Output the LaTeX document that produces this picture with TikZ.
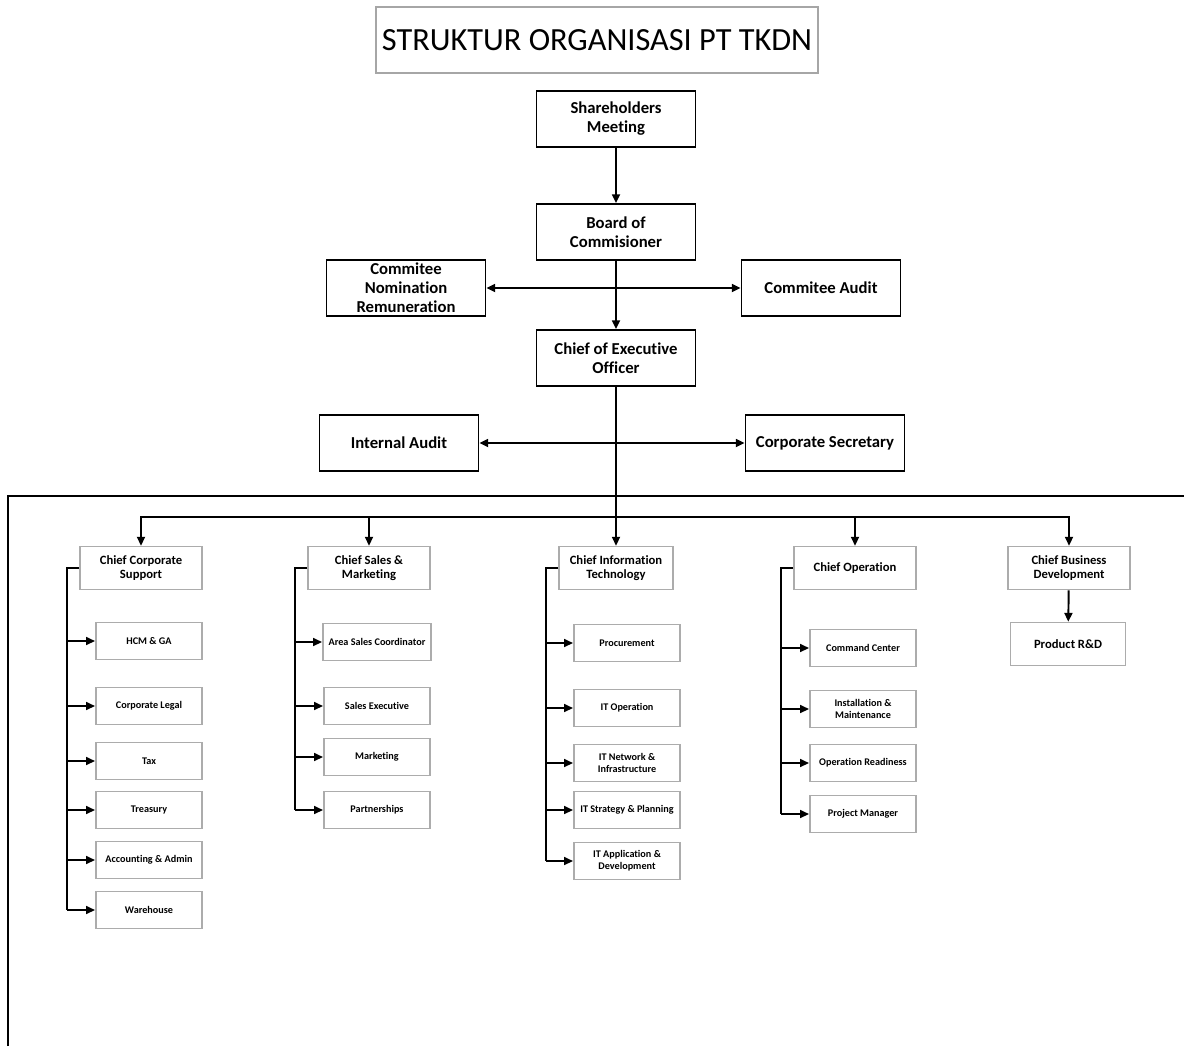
\documentclass[tikz,border=0pt]{standalone}
\usepackage{fontspec}
\setmainfont{Carlito}[Ligatures=NoCommon]
\usetikzlibrary{arrows.meta}
\begin{document}
\begin{tikzpicture}[x=0.02cm,y=-0.02cm,>={Triangle[length=5pt,width=4.5pt]},
	topbox/.style={draw,line width=1.1pt,minimum width=3.18cm,minimum height=1.12cm,align=center,font=\bfseries\fontsize{9.5}{10.8}\selectfont},
	chiefbox/.style={draw=gray!65,line width=0.9pt,minimum width=2.44cm,minimum height=0.86cm,align=center,font=\bfseries\fontsize{7.2}{8}\selectfont},
	subbox/.style={draw=gray!65,line width=0.9pt,minimum width=2.13cm,minimum height=0.74cm,align=center,font=\bfseries\fontsize{5.8}{6.6}\selectfont},
	link/.style={line width=1.1pt},
	sublink/.style={line width=0.9pt}]
	\useasboundingbox (0,0) rectangle (1184,1046);
	% judul
	\node[draw=gray!70,line width=1pt,minimum width=8.84cm,minimum height=1.32cm,font=\fontsize{18.4}{20}\selectfont] (title) at (597,40) {STRUKTUR ORGANISASI PT TKDN};
	% pimpinan
	\node[topbox] (rups) at (616,119) {Shareholders\\Meeting};
	\node[topbox] (boc) at (616,232) {Board of\\Commisioner};
	\node[topbox,inner ysep=0pt] (nomrem) at (406,288) {Commitee\\Nomination\\Remuneration};
	\node[topbox] (komaudit) at (821,288) {Commitee Audit};
	\node[topbox] (ceo) at (616,358) {Chief of Executive\\Officer};
	\node[topbox] (intaudit) at (399,443) {Internal Audit};
	\node[topbox] (corsec) at (825,443) {Corporate Secretary};
	\coordinate (komline) at (616,288);
	\coordinate (auditline) at (616,443);
	\path[link] (rups) edge[->] (boc);
	\path[link] (boc) edge[->] (ceo);
	\path[link] (komline) edge[->] (nomrem);
	\path[link] (komline) edge[->] (komaudit);
	\path[link] (auditline) edge[->] (intaudit);
	\path[link] (auditline) edge[->] (corsec);
	% bingkai
	\draw[line width=1.2pt] (8,1046) -- (8,496) -- (1184,496);
	% direktur
	\node[chiefbox] (ccs) at (141,568) {Chief Corporate\\Support};
	\node[chiefbox] (csm) at (369,568) {Chief Sales \&\\Marketing};
	\node[chiefbox,minimum width=2.28cm] (cit) at (616,568) {Chief Information\\Technology};
	\node[chiefbox] (cop) at (855,568) {Chief Operation};
	\node[chiefbox] (cbd) at (1069,568) {Chief Business\\Development};
	\node[chiefbox,minimum width=2.3cm] (rnd) at (1068,644) {Product R\&D};
	\coordinate (bus) at (616,517);
	\draw[link] (ceo) -- (bus);
	\path[link] (bus) edge[->] (cit);
	\foreach \c in {ccs,csm,cop,cbd}
		\draw[link,->] (bus) -| (\c.north);
	\path[link] (cbd) edge[->] (rnd);
	% corporate support
	\node[subbox] (hcm) at (149,641) {HCM \& GA};
	\node[subbox] (legal) at (149,706) {Corporate Legal};
	\node[subbox] (tax) at (149,761) {Tax};
	\node[subbox] (treas) at (149,810) {Treasury};
	\node[subbox] (acct) at (149,860) {Accounting \& Admin};
	\node[subbox] (ware) at (149,910) {Warehouse};
	\coordinate (ccsspine) at (67,568);
	\draw[link] (ccs.west) -- (ccsspine) -- (ccsspine |- ware.west);
	\foreach \s in {hcm,legal,tax,treas,acct,ware}
		\draw[sublink,->] (ccsspine |- \s.west) -- (\s.west);
	% sales & marketing
	\node[subbox] (asc) at (377,642) {Area Sales Coordinator};
	\node[subbox] (salesx) at (377,706) {Sales Executive};
	\node[subbox] (mkt) at (377,757) {Marketing};
	\node[subbox] (partner) at (377,810) {Partnerships};
	\coordinate (csmspine) at (295,568);
	\draw[link] (csm.west) -- (csmspine) -- (csmspine |- partner.west);
	\foreach \s in {asc,salesx,mkt,partner}
		\draw[sublink,->] (csmspine |- \s.west) -- (\s.west);
	% information technology
	\node[subbox] (proc) at (627,643) {Procurement};
	\node[subbox] (itops) at (627,708) {IT Operation};
	\node[subbox] (itnet) at (627,763) {IT Network \&\\Infrastructure};
	\node[subbox] (itstrat) at (627,810) {IT Strategy \& Planning};
	\node[subbox] (itapp) at (627,861) {IT Application \&\\Development};
	\coordinate (citspine) at (546,568);
	\draw[link] (cit.west) -- (citspine) -- (citspine |- itapp.west);
	\foreach \s in {proc,itops,itnet,itstrat,itapp}
		\draw[sublink,->] (citspine |- \s.west) -- (\s.west);
	% operation
	\node[subbox] (cmd) at (863,648) {Command Center};
	\node[subbox] (instal) at (863,709) {Installation \&\\Maintenance};
	\node[subbox] (ready) at (863,763) {Operation Readiness};
	\node[subbox] (pm) at (863,814) {Project Manager};
	\coordinate (copspine) at (781,568);
	\draw[link] (cop.west) -- (copspine) -- (copspine |- pm.west);
	\foreach \s in {cmd,instal,ready,pm}
		\draw[sublink,->] (copspine |- \s.west) -- (\s.west);
\end{tikzpicture}
\end{document}
